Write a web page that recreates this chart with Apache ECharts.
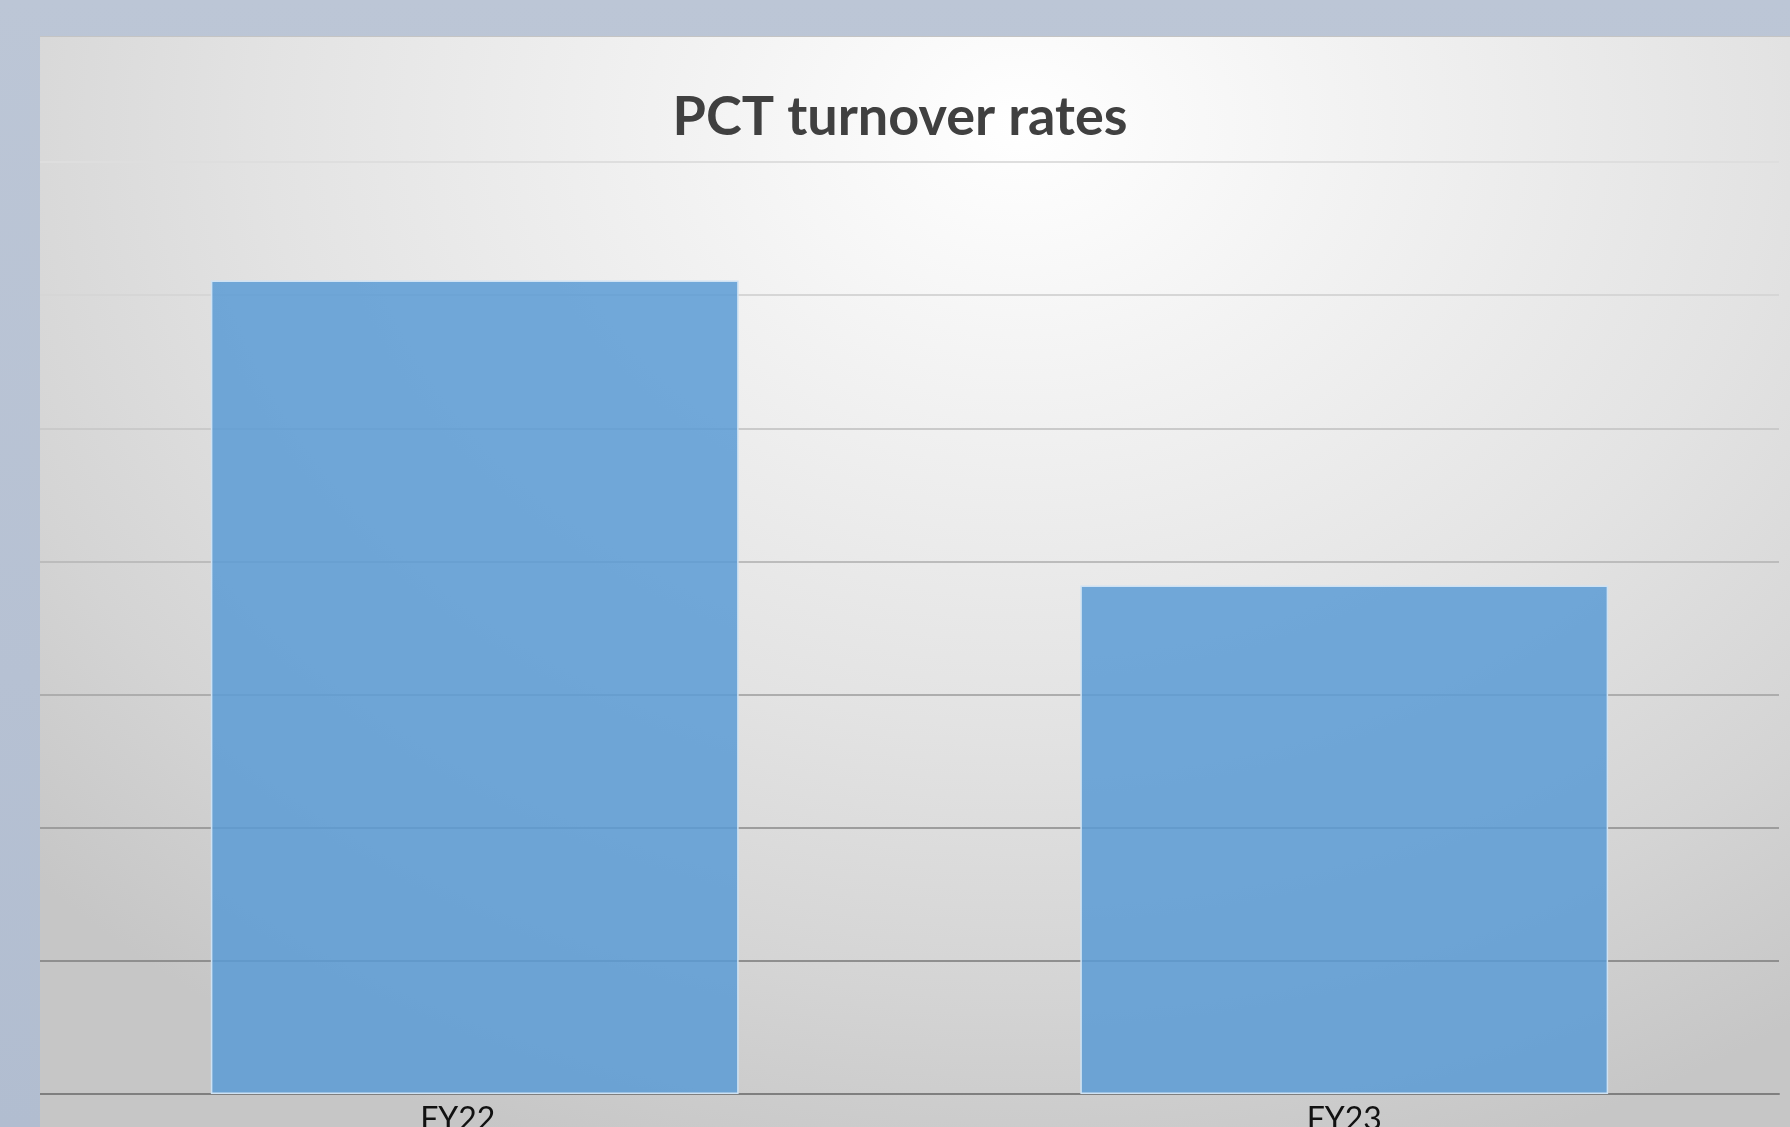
<!DOCTYPE html>
<html>
<head>
<meta charset="utf-8">
<title>PCT turnover rates</title>
<script src="https://cdn.jsdelivr.net/npm/echarts@6/dist/echarts.min.js"></script>
<style>
  html, body { margin: 0; padding: 0; }
  body {
    width: 1790px; height: 1127px; overflow: hidden;
    background: linear-gradient(180deg, #bcc6d6 0%, #b6c1d3 60%, #b1bdd0 100%);
    position: relative;
  }
  #panel {
    position: absolute; left: 40px; top: 36px; width: 1750px; height: 1091px;
    border-top: 1px solid #c4c4c4;
    background: radial-gradient(ellipse 78% 100% at 56% 8%, #ffffff 0%, #f2f2f2 25%, #e3e3e3 55%, #d4d4d4 80%, #c6c6c6 100%);
  }
  #chart-div { width: 100%; height: 100%; }
</style>
</head>
<body>
<div id="panel"><div id="chart-div"></div></div>
<script>
// data
const categories = ['FY22', 'FY23']
const turnoverRates = [30.55, 19.1]
const yTicks = [0, 5, 10, 15, 20, 25, 30, 35]

// grid lines get darker towards the bottom
const gridColors = ['#7f7f7f', '#8f8f8f', '#9d9d9d', '#adadad', '#bcbcbc', '#cacaca', '#d6d6d6', '#dedede']

let myChart = echarts.init(document.getElementById('chart-div'))

const option = {
    animation: false,
    backgroundColor: 'transparent',
    title: {
        text: 'PCT turnover rates',
        left: 855,
        top: 49,
        textAlign: 'center',
        textStyle: {
            fontFamily: 'Lato',
            fontWeight: 700,
            fontSize: 54,
            color: '#404040'
        }
    },
    // labels of the x axis run off the bottom edge, as in the original
    grid: { left: 0, right: 11, top: 125, bottom: 34, containLabel: false, outerBoundsMode: 'none' },
    xAxis: {
        type: 'category',
        data: categories.map((c, i) => i === 0
            ? { value: c, textStyle: { padding: [0, 34, 0, 0] } }
            : c),
        axisLine: { lineStyle: { color: '#7f7f7f', width: 2 } },
        axisTick: { show: false },
        axisLabel: {
            fontFamily: 'Lato',
            fontSize: 32,
            color: '#111',
            margin: 10
        }
    },
    yAxis: {
        type: 'value',
        min: yTicks[0],
        max: yTicks[yTicks.length - 1],
        interval: yTicks[1] - yTicks[0],
        axisLabel: { show: false },
        axisLine: { show: false },
        axisTick: { show: false },
        splitLine: { lineStyle: { color: gridColors, width: 2 } }
    },
    series: [{
        name: 'Turnover rate',
        type: 'bar',
        data: turnoverRates,
        barCategoryGap: '39.3%',
        itemStyle: {
            color: 'rgba(91,155,213,0.85)',
            borderColor: '#cfe2f3',
            borderWidth: 1.5
        }
    }]
}

myChart.setOption(option)
</script>
</body>
</html>
